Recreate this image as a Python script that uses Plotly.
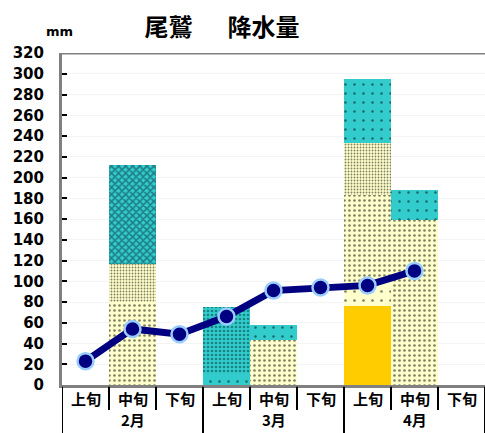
import plotly.graph_objects as go

months = ["2月", "3月", "4月"]
decades = ["上旬", "中旬", "下旬"]
categories = [f"{m}{d}" for m in months for d in decades]

# stacked bar series (bottom -> top), mm
orange_solid = [0, 0, 0, 0, 0, 0, 76, 0, 0]
yellow_sparse = [0, 0, 0, 0, 0, 0, 21, 0, 0]
yellow_dots = [0, 80, 0, 0, 43, 0, 86, 159, 0]
yellow_dense = [0, 37, 0, 0, 0, 0, 50, 0, 0]
teal_sparse = [0, 0, 0, 11, 15, 0, 62, 29, 0]
teal_dense = [0, 0, 0, 64, 0, 0, 0, 0, 0]
teal_cross = [0, 95, 0, 0, 0, 0, 0, 0, 0]

# line series (mm)
line_vals = [23, 54, 49, 66, 91, 94, 96, 110]
line_cats = categories[:8]

y_ticks = list(range(0, 321, 20))

FONT = "Noto Sans CJK JP"

fig = go.Figure()

def add_bar(vals, bg, shape, size, solidity, fg="#000000"):
    pattern = dict(shape=shape, bgcolor=bg, fgcolor=fg, size=size, solidity=solidity) if shape else dict(shape="")
    fig.add_trace(go.Bar(
        x=categories, y=vals,
        marker=dict(color=bg, line=dict(width=0), pattern=pattern),
        showlegend=False, hoverinfo="skip",
    ))

add_bar(orange_solid, "#FFCC00", "", 0, 0)
add_bar(yellow_sparse, "#FFFFCC", ".", 9, 0.07)
add_bar(yellow_dots, "#FFFFCC", ".", 5, 0.22)
add_bar(yellow_dense, "#FFFFCC", ".", 3, 0.3)
add_bar(teal_sparse, "#33CCCC", ".", 9, 0.06)
add_bar(teal_dense, "#33CCCC", ".", 4, 0.35, "#003838")
add_bar(teal_cross, "#33CCCC", "x", 5, 0.55, "#0A3040")

fig.add_trace(go.Scatter(
    x=line_cats, y=line_vals, mode="lines+markers",
    line=dict(color="#000080", width=7),
    marker=dict(size=16, color="#000080", line=dict(color="#99CCFF", width=2.5)),
    showlegend=False, hoverinfo="skip",
))

shapes = []
# top border line
shapes.append(dict(type="line", xref="paper", yref="y", x0=0, x1=1, y0=320, y1=320,
                   line=dict(color="#808080", width=3), layer="above"))
# separators below axis
for i in range(len(categories) + 1):
    pos = i - 0.5
    is_month = (i % 3 == 0)
    shapes.append(dict(type="line", xref="x", yref="paper", x0=pos, x1=pos,
                       y0=-0.005, y1=(-0.16 if is_month else -0.075),
                       line=dict(color="#000000", width=2)))

annotations = []
for i, d in enumerate(decades * 3):
    annotations.append(dict(x=categories[i], y=-0.04, xref="x", yref="paper", text=d,
                            showarrow=False, yanchor="middle",
                            font=dict(family=FONT, size=15, color="#000000", weight="bold")))
for j, m in enumerate(months):
    annotations.append(dict(x=categories[j * 3 + 1], y=-0.105, xref="x", yref="paper", text=m,
                            showarrow=False, yanchor="middle",
                            font=dict(family=FONT, size=15, color="#000000", weight="bold")))
annotations.append(dict(x=(59 - 62) / 423, y=(385 - 31) / 332, xref="paper", yref="paper", text="mm",
                        showarrow=False, xanchor="center", yanchor="middle",
                        font=dict(family="DejaVu Sans", size=13, color="#000000", weight="bold")))

fig.update_layout(
    width=485, height=433,
    margin=dict(l=62, r=0, t=53, b=48, autoexpand=False),
    paper_bgcolor="#FFFFFF", plot_bgcolor="#FFFFFF",
    barmode="stack", bargap=0,
    title=dict(text="尾鷲　  降水量", x=222 / 485, y=1 - 28 / 433, xref="container", yref="container",
               xanchor="center", yanchor="middle",
               font=dict(family=FONT, size=24, color="#000000", weight="bold")),
    shapes=shapes, annotations=annotations,
)
fig.update_xaxes(type="category", categoryorder="array", categoryarray=categories,
                 showticklabels=False, ticks="", showline=True, linecolor="#808080", linewidth=3,
                 showgrid=False, zeroline=False, range=[-0.5, 8.5])
fig.update_yaxes(range=[0, 320], tickvals=y_ticks, ticks="inside", ticklen=5, tickcolor="#000000",
                 tickwidth=2, showline=True, linecolor="#808080", linewidth=3,
                 showgrid=True, gridcolor="#F4F4F4", gridwidth=1, zeroline=False,
                 ticklabelstandoff=12,
                 tickfont=dict(family="DejaVu Sans", size=15, color="#000000", weight="bold"))

fig.write_html("out.html", config={"displayModeBar": False},
               post_script="document.body.style.margin='0';")
